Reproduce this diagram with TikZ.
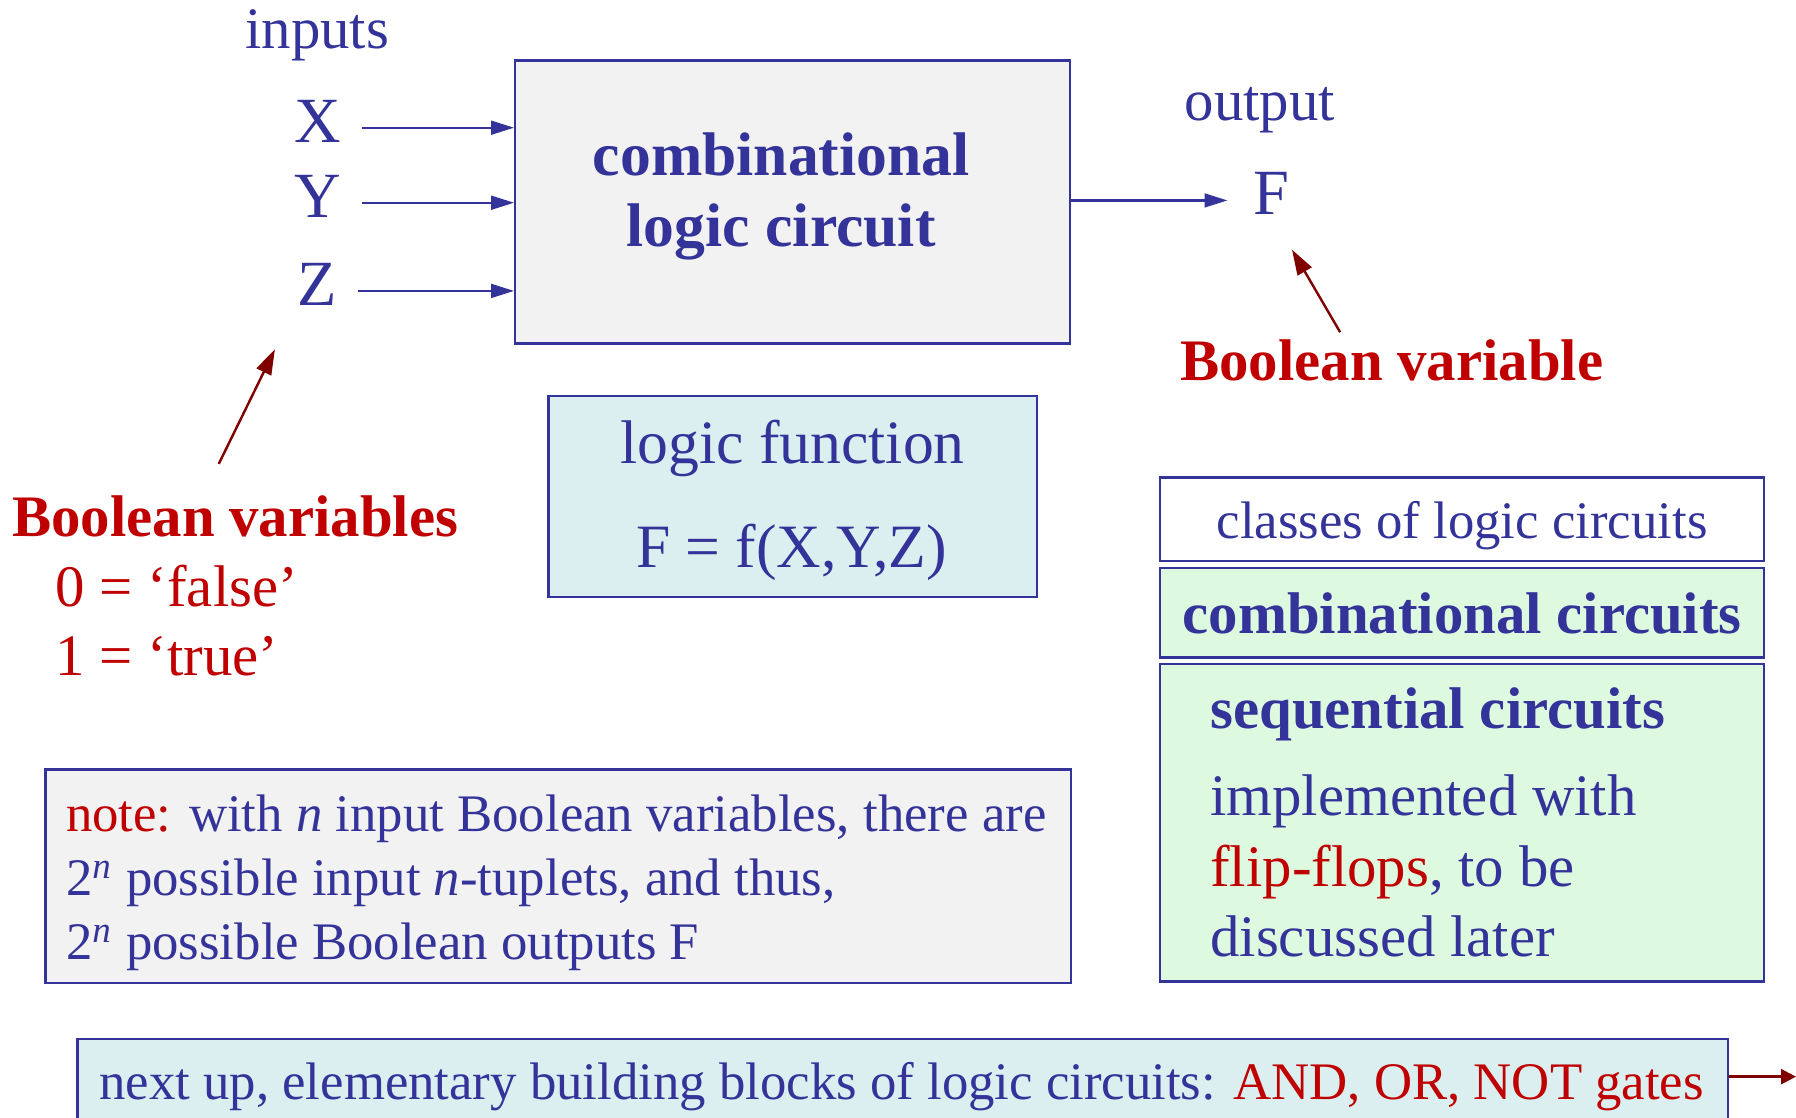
\documentclass[tikz,border=0pt]{standalone}
\usepackage{fontspec}
\setmainfont{Liberation Serif}
\usetikzlibrary{arrows.meta}
\definecolor{ink}{HTML}{333399}
\definecolor{hot}{HTML}{C00000}
\definecolor{darkhot}{HTML}{800000}
\definecolor{grayfill}{HTML}{F2F2F2}
\definecolor{cyanfill}{HTML}{DBEEF0}
\definecolor{greenfill}{HTML}{DDF9E0}
\newcommand{\bigsz}{\fontsize{14.6}{17.5}\selectfont}
\newcommand{\midsz}{\fontsize{15.3}{18.4}\selectfont}
\newcommand{\varsz}{\fontsize{16}{19.2}\selectfont}
\newcommand{\smsz}{\fontsize{13.1}{15.7}\selectfont}
\tikzset{
  box/.style={draw=ink,line width=0.6pt,inner sep=0pt},
  lbl/.style={inner sep=0pt,text height=0.69em,text depth=0.23em},
  varlbl/.style={inner sep=0pt,font=\varsz,text height=0.85em,text depth=0.14em},
  arr/.style={-{Triangle[length=0.2cm,width=0.12cm]},ink,line width=0.6pt},
  redarr/.style={-{Triangle[length=0.2cm,width=0.13cm]},darkhot,line width=0.6pt}
}
\begin{document}
\begin{tikzpicture}[x=0.01cm,y=-0.01cm,font=\bigsz,text=ink]
\useasboundingbox (0,0) rectangle (1568,976);

\node[lbl] (inp) at (277,34) {inputs};
\node[varlbl] (X) at (277,111.5) {X};
\node[varlbl] (Y) at (277,177) {Y};
\node[varlbl] (Z) at (277,254) {Z};

\node[box,fill=grayfill,minimum width=4.84cm,minimum height=2.47cm] (circ) at (692,176.5) {};
\node[lbl,font=\midsz\bfseries] at (682,145) {combinational};
\node[lbl,font=\midsz\bfseries] at (682,207) {logic circuit};

\draw[arr] ([xshift=0.177cm]X.east) -- (X -| circ.west);
\draw[arr] ([xshift=0.177cm]Y.east) -- (Y -| circ.west);
\draw[arr] ([xshift=0.177cm]Z.east) -- (Z -| circ.west);

\node[lbl] (outp) at (1100,97) {output};
\node[varlbl] (F) at (1110,175) {F};
\draw[arr,shorten >=0.22cm] (circ.east |- F) -- (F.west);

\node[lbl,text=hot,font=\bigsz\bfseries] (bvar) at (1215,324) {Boolean variable};
\coordinate (bvarfoot) at (1170,290);
\coordinate (bvartip) at (1128,218);
\draw[redarr,-{Triangle[length=0.22cm,width=0.14cm]}] (bvarfoot) -- (bvartip);

\node[lbl,anchor=west,text=hot,font=\bigsz\bfseries] (bvars) at (10,460) {Boolean variables};
\node[lbl,anchor=west,text=hot] (bfalse) at (48,521) {0 = ‘false’};
\node[lbl,anchor=west,text=hot] (btrue) at (48,582) {1 = ‘true’};
\coordinate (bvarsfoot) at (191,405);
\coordinate (bvarstip) at (240,305);
\draw[redarr,-{Triangle[length=0.22cm,width=0.14cm]}] (bvarsfoot) -- (bvarstip);

\node[box,fill=cyanfill,minimum width=4.26cm,minimum height=1.75cm] (lfun) at (692,433.5) {};
\node[lbl,font=\midsz] at (692,397) {logic function};
\node[lbl,font=\midsz] at (691,487) {F = f(X,Y,Z)};

\node[box,fill=white,minimum width=5.27cm,minimum height=0.73cm] (cls) at (1276.5,453.5) {};
\node[lbl,font=\smsz] at (1276.5,462) {classes of logic circuits};
\node[box,fill=greenfill,minimum width=5.27cm,minimum height=0.78cm] (comb) at (1276.5,535) {};
\node[lbl,font=\bigsz\bfseries] at (1276.5,545) {combinational circuits};
\node[box,fill=greenfill,minimum width=5.27cm,minimum height=2.77cm] (seq) at (1276.5,718.5) {};
\node[lbl,anchor=west,font=\bigsz\bfseries] at (1056,628) {sequential circuits};
\node[lbl,anchor=west] at (1056,704) {implemented with};
\node[lbl,anchor=west] at (1056,766) {\textcolor{hot}{flip-flops}, to be};
\node[lbl,anchor=west] at (1056,827) {discussed later};

\node[box,fill=grayfill,minimum width=8.95cm,minimum height=1.86cm] (note) at (487.5,765) {};
\node[lbl,anchor=west,font=\smsz] at (57,718) {\textcolor{hot}{note:} with \textit{n} input Boolean variables, there are};
\node[lbl,anchor=west,font=\smsz] at (57,774) {2\textsuperscript{\textit{n}} possible input \textit{n}-tuplets, and thus,};
\node[lbl,anchor=west,font=\smsz] at (57,830) {2\textsuperscript{\textit{n}} possible Boolean outputs F};

\node[box,fill=cyanfill,minimum width=14.4cm,minimum height=0.8cm] (nbox) at (788,947) {};
\node[lbl,anchor=west,font=\smsz] at (86,952) {next up, elementary building blocks of logic circuits: \textcolor{hot}{AND, OR, NOT gates}};
\coordinate (nxt) at (1568,940);
\draw[redarr,-{Triangle[length=0.13cm,width=0.13cm]}] (nbox.east |- nxt) -- (nxt);
\end{tikzpicture}
\end{document}
